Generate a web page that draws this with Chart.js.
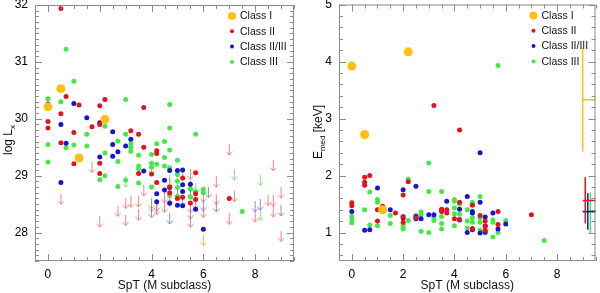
<!DOCTYPE html>
<html>
<head>
<meta charset="utf-8">
<script src="https://cdn.jsdelivr.net/npm/chart.js@4.4.1/dist/chart.umd.min.js"></script>
<style>
  body { margin: 0; background: #fff; }
  .wrap { display: flex; width: 600px; height: 293px; }
  canvas { display: block; }
</style>
</head>
<body>
<div class="wrap">
  <canvas id="lx-chart" width="300" height="293"></canvas>
  <canvas id="emed-chart" width="300" height="293"></canvas>
</div>
<script>
const sptTicks = [0, 2, 4, 6, 8];
const lxTicks = [28, 29, 30, 31, 32];
const emedTicks = [1, 2, 3, 4, 5];
const classLabels = ["Class I", "Class II", "Class II/III", "Class III"];

// log Lx detections, [SpT, log Lx]
const lxClassI = [[0.0, 30.21], [0.5, 30.53], [1.2, 29.31], [2.2, 29.99]];
const lxClassII = [
  [0.5, 31.94], [0.7, 30.39], [1.2, 30.24], [2.2, 30.34], [2.0, 30.23], [3.7, 30.20], [0.5, 30.09],
  [0.0, 29.95], [2.0, 29.90], [1.7, 29.86], [0.0, 29.84], [3.2, 29.79], [3.5, 29.73], [1.0, 29.76],
  [0.5, 29.58], [3.7, 29.50], [4.2, 29.44], [4.2, 29.39], [1.0, 29.21], [2.0, 29.22], [2.0, 29.04],
  [3.5, 29.04], [4.0, 29.03], [4.2, 28.88], [5.7, 29.05], [5.2, 28.96], [4.7, 28.80], [4.7, 28.70],
  [5.2, 28.62], [5.0, 28.60], [5.7, 28.58], [5.7, 28.68], [7.0, 28.60], [5.5, 28.52]
];
const lxClassII_III = [
  [0.0, 30.26], [1.0, 30.27], [1.5, 30.02], [0.5, 29.90], [2.0, 29.93], [2.5, 29.77], [3.2, 29.64],
  [2.5, 29.55], [0.7, 29.57], [3.0, 29.52], [2.0, 29.33], [2.5, 29.34], [2.7, 29.42], [0.5, 28.88],
  [3.7, 29.08], [4.2, 28.68], [4.2, 28.54], [4.5, 28.92], [4.5, 28.75], [4.7, 29.09], [5.0, 29.09],
  [5.2, 29.10], [4.7, 28.79], [4.7, 28.52], [5.0, 28.48], [5.2, 28.84], [5.2, 28.72], [5.2, 28.47],
  [5.5, 28.85], [5.7, 28.41], [6.0, 28.06]
];
const lxClassIII = [
  [0.7, 31.22], [1.0, 30.66], [0.0, 30.35], [0.5, 30.30], [3.0, 30.34], [4.7, 30.25], [2.2, 29.87],
  [3.0, 29.73], [1.5, 29.73], [5.7, 29.73], [4.7, 29.84], [2.7, 29.61], [0.0, 29.55], [1.0, 29.54],
  [1.5, 29.52], [3.2, 29.56], [3.2, 29.50], [3.2, 29.43], [4.2, 29.56], [4.5, 29.60], [4.7, 29.45],
  [0.7, 29.49], [0.0, 29.24], [2.2, 29.40], [2.7, 29.25], [2.2, 29.00], [2.0, 28.93], [2.7, 28.81],
  [3.0, 28.92], [3.5, 28.87], [3.5, 29.36], [3.5, 29.17], [3.5, 29.12], [4.0, 29.37], [4.0, 29.22],
  [4.0, 29.15], [4.0, 28.80], [4.2, 29.20], [4.5, 29.32], [4.5, 29.17], [4.7, 29.14], [5.0, 29.27],
  [5.0, 29.02], [5.0, 28.90], [5.0, 28.79], [5.0, 28.64], [5.5, 28.77], [5.5, 28.63], [5.7, 28.72],
  [6.0, 28.76], [6.0, 28.70], [4.7, 28.65], [7.5, 28.37]
];

// log Lx upper limits
const lxLimClassI = [[6.0, 27.86]];
const lxLimClassII = [
  [0.5, 28.58], [1.7, 29.14], [2.0, 28.18], [2.7, 28.37], [3.0, 28.51], [3.0, 28.21], [3.2, 28.53],
  [3.5, 28.54], [3.5, 28.30], [3.7, 28.73], [4.0, 28.50], [4.5, 28.61], [4.5, 28.44], [4.7, 28.86],
  [5.2, 29.00], [5.5, 29.02], [5.5, 28.44], [5.5, 28.18], [5.7, 28.64], [6.0, 28.62], [6.0, 28.35],
  [6.5, 28.88], [6.5, 28.58], [7.0, 29.45], [7.0, 28.23], [7.2, 28.63], [8.0, 28.27], [8.5, 28.56],
  [8.7, 29.17], [8.7, 28.55], [8.7, 28.36], [9.0, 28.69], [9.0, 27.93], [5.2, 28.55], [4.2, 28.40]
];
const lxLimClassII_III = [
  [4.0, 28.35], [4.2, 28.46], [4.7, 28.24], [5.0, 28.68], [5.5, 28.67], [5.5, 28.33], [5.7, 28.50],
  [6.0, 28.47], [6.2, 28.70], [6.5, 28.45], [8.0, 28.45], [8.2, 28.48], [9.0, 28.38], [5.5, 28.80],
  [4.7, 28.55]
];
const lxLimClassIII = [
  [7.2, 29.01], [8.2, 28.91], [8.2, 28.30], [4.0, 28.45], [5.0, 28.85], [5.7, 28.76], [3.0, 28.88],
  [4.7, 28.90], [3.5, 29.08], [4.0, 29.12]
];

// median energy, [SpT, Emed keV]
const emedClassI = [[0.0, 3.92], [0.5, 2.72], [2.2, 4.17], [1.2, 1.40]];
const emedClassII = [
  [3.2, 3.23], [4.2, 2.80], [0.5, 1.97], [0.5, 1.88], [0.5, 1.83], [0.7, 2.00], [2.2, 1.89],
  [2.0, 1.66], [4.2, 1.53], [0.0, 1.52], [0.0, 1.47], [1.0, 1.40], [1.2, 1.46], [1.7, 1.34],
  [1.0, 1.20], [2.0, 1.28], [2.0, 1.18], [3.5, 1.41], [3.5, 1.37], [3.7, 1.40], [3.7, 1.34],
  [4.0, 1.24], [4.2, 1.23], [4.7, 1.48], [4.7, 1.07], [5.0, 1.30], [5.2, 1.20], [5.2, 1.11],
  [5.2, 1.04], [5.7, 1.37], [5.7, 1.14], [7.0, 1.31], [2.5, 1.26]
];
const emedClassII_III = [
  [5.0, 2.40], [2.5, 1.81], [1.0, 1.78], [2.0, 1.75], [3.7, 1.55], [0.0, 1.37], [1.5, 1.40],
  [0.5, 1.04], [0.7, 1.05], [2.0, 1.26], [2.5, 1.28], [2.5, 1.24], [2.7, 1.24], [3.0, 1.31],
  [3.2, 1.31], [3.5, 1.39], [4.2, 1.41], [4.2, 1.22], [4.5, 1.63], [5.0, 1.53], [4.7, 1.37],
  [4.7, 1.34], [4.7, 1.05], [4.5, 1.00], [5.0, 0.99], [5.2, 1.27], [5.2, 1.12], [5.2, 1.01],
  [5.5, 1.34], [5.7, 1.06], [6.0, 1.15]
];
const emedClassIII = [
  [5.7, 3.93], [3.0, 2.22], [2.2, 1.94], [0.7, 1.71], [3.0, 1.72], [3.5, 1.72], [4.0, 1.58],
  [4.0, 1.55], [4.2, 1.50], [0.0, 1.28], [0.0, 1.24], [0.0, 1.17], [0.5, 1.40], [1.0, 1.58],
  [1.0, 1.53], [1.5, 1.30], [1.5, 1.16], [1.0, 1.12], [0.7, 1.13], [2.0, 1.14], [2.0, 1.10],
  [2.0, 1.06], [2.2, 1.21], [2.5, 1.30], [2.7, 1.36], [2.7, 1.31], [2.7, 1.02], [3.0, 1.00],
  [3.2, 1.26], [3.2, 1.21], [3.5, 1.28], [3.5, 1.16], [3.5, 1.06], [4.0, 1.43], [4.0, 1.33],
  [4.0, 1.12], [4.2, 1.32], [4.5, 1.40], [4.5, 1.20], [4.5, 1.08], [5.0, 1.63], [4.7, 1.53],
  [4.7, 1.49], [4.7, 1.26], [4.7, 1.18], [5.0, 1.26], [5.0, 1.18], [5.0, 1.04], [5.2, 0.99],
  [5.5, 1.22], [5.5, 1.18], [5.5, 0.92], [5.7, 1.00], [6.0, 1.21], [7.5, 0.86]
];

// typical Emed uncertainty per class: SpT of the bar, low, high, level
const errSpt = [9.0, 9.1, 9.2, 9.3];
const errLow = [2.42, 1.16, 1.05, 0.98];
const errHigh = [4.24, 1.97, 1.69, 1.70];
const errLevel = [3.33, 1.56, 1.37, 1.36];
const errSpan = [9.0, 9.6];

const FONT = '"Liberation Sans", Arial, Helvetica, sans-serif';
const classColors = ["rgb(255,190,20)", "rgb(228,18,30)", "rgb(22,22,205)", "rgb(70,232,70)"];
const limitColors = ["rgba(255,160,50,0.85)", "rgba(226,105,105,0.8)", "rgba(120,110,205,0.8)", "rgba(115,220,115,0.85)"];
const dotRadius = [4.5, 2.5, 2.5, 2.5];

const toPoints = (pairs) => pairs.map(([x, y]) => ({ x, y }));

const makeArrow = (color) => {
  const c = document.createElement("canvas");
  c.width = 9;
  c.height = 12;
  const g = c.getContext("2d");
  g.strokeStyle = color;
  g.lineWidth = 1;
  g.beginPath();
  g.moveTo(4.5, 0);
  g.lineTo(4.5, 11);
  g.moveTo(1.5, 7.5);
  g.lineTo(4.5, 11);
  g.lineTo(7.5, 7.5);
  g.stroke();
  return c;
};

const dotSet = (pairs, i) => ({
  data: toPoints(pairs),
  pointStyle: "circle",
  pointRadius: dotRadius[i],
  pointBackgroundColor: classColors[i],
  pointBorderWidth: 0,
  clip: false,
});

const limitSet = (pairs, i) => ({
  data: toPoints(pairs),
  pointStyle: makeArrow(limitColors[i]),
  clip: false,
});

const errSets = () => {
  const sets = [];
  errSpt.forEach((x, i) => {
    sets.push({
      data: [{ x, y: errLow[i] }, { x, y: errHigh[i] }],
      showLine: true, pointRadius: 0, borderColor: classColors[i], borderWidth: 1.5, clip: 0,
    });
    sets.push({
      data: [{ x: errSpan[0], y: errLevel[i] }, { x: errSpan[1], y: errLevel[i] }],
      showLine: true, pointRadius: 0, borderColor: classColors[i], borderWidth: 1.5, clip: 0,
    });
  });
  return sets;
};

// IDL-like frame with inward ticks on all four sides
const idlFrame = {
  id: "idlFrame",
  afterDatasetsDraw(chart, args, o) {
    const { ctx, chartArea: a, scales } = chart;
    ctx.save();
    ctx.strokeStyle = "#8c8c8c";
    ctx.lineWidth = 1;
    ctx.strokeRect(a.left + 0.5, a.top + 0.5, a.width - 1, a.height - 1);
    ctx.beginPath();
    const walk = (scale, step, major, fn) => {
      const n0 = Math.ceil(scale.min / step - 1e-6);
      const n1 = Math.floor(scale.max / step + 1e-6);
      for (let n = n0; n <= n1; n++) {
        const v = n * step;
        const r = v / major;
        const isMajor = Math.abs(r - Math.round(r)) < 1e-6;
        fn(Math.round(scale.getPixelForValue(v)) + 0.5, isMajor ? 7 : 4);
      }
    };
    walk(scales.x, 0.5, 2, (px, len) => {
      ctx.moveTo(px, a.bottom); ctx.lineTo(px, a.bottom - len);
      ctx.moveTo(px, a.top); ctx.lineTo(px, a.top + len);
    });
    walk(scales.y, o.yMinor, 1, (py, len) => {
      ctx.moveTo(a.left, py); ctx.lineTo(a.left + len, py);
      ctx.moveTo(a.right, py); ctx.lineTo(a.right - len, py);
    });
    ctx.stroke();
    ctx.restore();
  },
};

// rotated y title with a subscript
const yTitle = {
  id: "yTitle",
  afterDraw(chart, args, o) {
    const { ctx } = chart;
    const parts = [[o.before, 12, 0], [o.sub, 8, 3], [o.after, 12, 0]];
    ctx.save();
    ctx.fillStyle = "#111";
    ctx.textBaseline = "alphabetic";
    let total = 0;
    parts.forEach((p) => {
      ctx.font = p[1] + "px " + FONT;
      p.push(ctx.measureText(p[0]).width);
      total += p[3];
    });
    ctx.translate(o.x, o.cy);
    ctx.rotate(-Math.PI / 2);
    let pos = -total / 2;
    parts.forEach(([text, size, dy, w]) => {
      ctx.font = size + "px " + FONT;
      ctx.fillText(text, pos, dy);
      pos += w;
    });
    ctx.restore();
  },
};

const classLegend = {
  id: "classLegend",
  afterDraw(chart, args, o) {
    const { ctx, chartArea: a } = chart;
    ctx.save();
    ctx.font = "10.5px " + FONT;
    ctx.textBaseline = "middle";
    ctx.fillStyle = "#111";
    classLabels.forEach((label, i) => {
      const cx = a.right - o.inset;
      const cy = a.top + 11 + i * 15.3;
      ctx.beginPath();
      ctx.fillStyle = classColors[i];
      ctx.arc(cx, cy, dotRadius[i] - 0.5, 0, Math.PI * 2);
      ctx.fill();
      ctx.fillStyle = "#111";
      ctx.fillText(label, cx + 8, cy + 0.5);
    });
    ctx.restore();
  },
};

const buildChart = (canvas, datasets, yRange, yTicks, opts) => {
  return new Chart(canvas, {
    type: "scatter",
    data: { datasets },
    options: {
      responsive: false,
      animation: false,
      events: [],
      layout: { padding: { left: 0, right: opts.rightPad, top: 3, bottom: 0 } },
      plugins: {
        legend: { display: false },
        tooltip: { enabled: false },
        idlFrame: { yMinor: opts.yMinor },
        yTitle: opts.title,
        classLegend: { inset: 62 },
      },
      scales: {
        x: {
          type: "linear",
          min: -0.5,
          max: 9.5,
          grid: { display: false, drawTicks: false },
          border: { display: false },
          afterBuildTicks: (s) => { s.ticks = sptTicks.map((v) => ({ value: v })); },
          afterFit: (s) => { s.height = 32; s.paddingLeft = 0; s.paddingRight = 0; },
          ticks: { color: "#000", padding: 6, font: { family: FONT, size: 12 } },
          title: {
            display: true, text: "SpT (M subclass)", color: "#111",
            padding: { top: 0, bottom: 0 }, font: { family: FONT, size: 12 },
          },
        },
        y: {
          type: "linear",
          min: yRange[0],
          max: yRange[1],
          grid: { display: false, drawTicks: false },
          border: { display: false },
          afterBuildTicks: (s) => { s.ticks = yTicks.map((v) => ({ value: v })); },
          afterFit: (s) => { s.width = opts.yWidth; s.paddingTop = 0; s.paddingBottom = 0; },
          ticks: { color: "#000", padding: 7, font: { family: FONT, size: 12 } },
        },
      },
    },
    plugins: [idlFrame, yTitle, classLegend],
  });
};

const lxDatasets = [
  dotSet(lxClassI, 0), dotSet(lxClassII, 1), dotSet(lxClassII_III, 2), dotSet(lxClassIII, 3),
  limitSet(lxLimClassI, 0), limitSet(lxLimClassII, 1), limitSet(lxLimClassII_III, 2), limitSet(lxLimClassIII, 3),
];
const emedDatasets = [
  dotSet(emedClassI, 0), dotSet(emedClassII, 1), dotSet(emedClassII_III, 2), dotSet(emedClassIII, 3),
  ...errSets(),
];

buildChart(document.getElementById("lx-chart"), lxDatasets, [27.5, 32], lxTicks, {
  rightPad: 6, yWidth: 35, yMinor: 0.1,
  title: { before: "log L", sub: "x", after: "", x: 12, cy: 140 },
});
buildChart(document.getElementById("emed-chart"), emedDatasets, [0.5, 5], emedTicks, {
  rightPad: 2, yWidth: 39, yMinor: 0.2,
  title: { before: "E", sub: "med", after: " [keV]", x: 22, cy: 132 },
});
</script>
</body>
</html>
